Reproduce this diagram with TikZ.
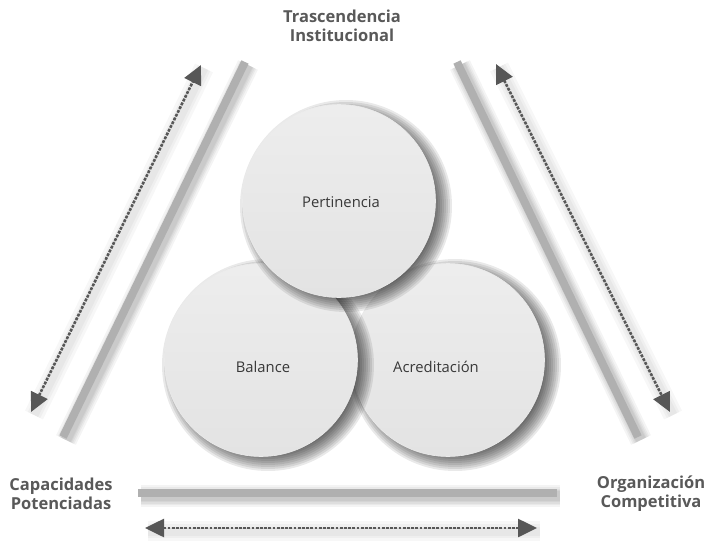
\documentclass[tikz,border=0pt]{standalone}
\usepackage{fontspec}
\setmainfont{Open Sans}
\usetikzlibrary{arrows.meta,calc}
\tikzset{
  disc/.style={circle, minimum size=193pt, inner sep=0pt, top color=black!7, bottom color=black!11,
    draw=black!8, line width=0.6pt},
  discshadow/.style={fill=black, opacity=0.085},
  disctext/.style={font=\fontsize{14.8}{17}\selectfont, text=black!78, inner sep=0pt},
  bar/.style={line width=8pt, draw=black!31},
  barshadow/.style={line width=#1, draw=black, opacity=0.045},
  darr/.style={{Triangle[length=19pt,width=18pt]}-{Triangle[length=19pt,width=18pt]}, line width=2.6pt,
    dash pattern=on 2.8pt off 1.4pt, draw=black!66, fill=black!66},
  tag/.style={font=\bfseries\fontsize{16.5}{19}\selectfont, text=black!65, align=center, inner sep=0pt}
}
\newcommand\mydiscshadow[1]{%
  \foreach \r in {106,104,...,84}{\fill[discshadow] ($(#1)+(7,5)$) circle (\r);}}
\begin{document}
\begin{tikzpicture}[x=1pt,y=-1pt]
\useasboundingbox[fill=white] (0,0) rectangle (710,549);
% bar end points
\coordinate (lb1) at (63,437); \coordinate (lb2) at (245,62);
\coordinate (rb1) at (457,62); \coordinate (rb2) at (638,437);
\coordinate (bb1) at (138,493); \coordinate (bb2) at (557,493);
% arrow end points
\coordinate (la1) at (31,412); \coordinate (la2) at (201,65);
\coordinate (ra1) at (496,64); \coordinate (ra2) at (670,412);
\coordinate (ba1) at (145,528); \coordinate (ba2) at (537,528);
% bar shadows
\foreach \w in {22pt,18pt,15pt,12pt,10pt}{
  \begin{scope}[transform canvas={xshift=3pt,yshift=-3pt}]
  \draw[barshadow=\w] (lb1) -- (lb2);
  \draw[barshadow=\w] (rb1) -- (rb2);
  \draw[barshadow=\w] (bb1) -- (bb2);
  \end{scope}
}
\draw[bar] (lb1) -- (lb2);
\draw[bar] (rb1) -- (rb2);
\draw[bar] (bb1) -- (bb2);
% arrow shadows
\foreach \w in {20pt,14pt,9pt}{
  \begin{scope}[transform canvas={xshift=3pt,yshift=-3pt}]
  \draw[barshadow=\w, opacity=0.03] (la1) -- (la2);
  \draw[barshadow=\w, opacity=0.03] (ra1) -- (ra2);
  \draw[barshadow=\w, opacity=0.03] (ba1) -- (ba2);
  \end{scope}
}
\draw[darr] (la1) -- (la2);
\draw[darr] (ra1) -- (ra2);
\draw[darr] (ba1) -- (ba2);
% circles
\coordinate (acrc) at (448,360);
\coordinate (balc) at (261,360);
\coordinate (pertc) at (339,201);
\mydiscshadow{acrc}
\node[disc] (acr) at (acrc) {};
\mydiscshadow{balc}
\node[disc] (bal) at (balc) {};
\mydiscshadow{pertc}
\node[disc] (pert) at (pertc) {};
\node[disctext] (acrt) at (436,367) {Acreditación};
\node[disctext] (balt) at (263,367) {Balance};
\node[disctext] (pertt) at (341,202) {Pertinencia};
% labels
\node[tag] (top) at (342,26) {Trascendencia\\Institucional};
\node[tag] (left) at (61,494) {Capacidades\\Potenciadas};
\node[tag] (right) at (651,494) {Organización\\Competitiva};
\end{tikzpicture}
\end{document}
